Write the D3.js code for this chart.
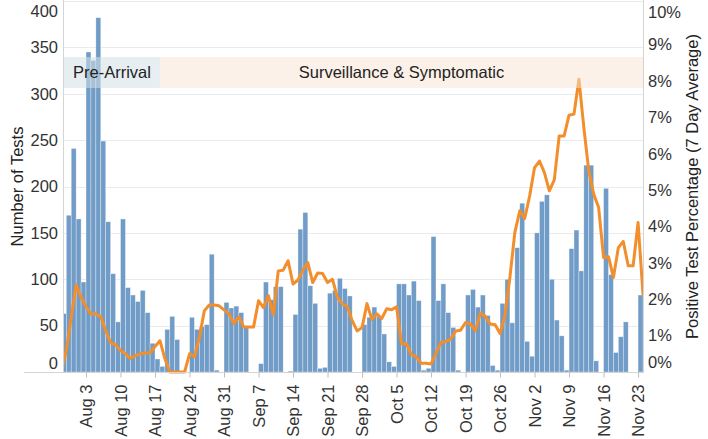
<!DOCTYPE html>
<html><head><meta charset="utf-8">
<script src="https://cdn.jsdelivr.net/npm/d3@7"></script>
<style>
html,body{margin:0;padding:0;background:#fff;}
svg{display:block;font-family:"Liberation Sans",Arial,sans-serif;}
</style></head>
<body><svg id="chart" width="708" height="439"></svg>
<script>
// ---------- DATA ----------
const firstDay = "2020-07-29";           // first bar / line date
const lastBarDay = "2020-11-23";
const lastLineDay = "2020-11-24";
// daily number of tests (Jul 29 .. Nov 23)
const tests = [
  63,169,241,
  165,97,345,336,382,249,162,106,54,165,91,83,76,88,64,31,14,6,46,60,35,0,0,59,46,49,51,127,2,0,75,
  69,71,64,48,0,0,9,97,78,92,92,0,1,62,154,172,93,74,4,5,85,88,101,90,82,0,0,51,59,70,
  60,41,11,6,95,95,83,98,77,2,4,146,77,95,64,48,2,0,83,89,70,83,61,7,2,74,100,53,134,182,33,
  17,150,184,191,100,56,39,2,133,153,109,223,223,12,0,198,105,21,38,54,0,0,83
];
// positive test percentage, 7 day average, in % (Jul 29 .. Nov 24)
const positivePct = [
  0.0,0.6,1.5,
  2.40,2.05,1.80,1.60,1.60,1.52,1.13,0.80,0.75,0.59,0.50,0.37,0.45,0.50,0.52,0.53,0.70,0.86,0.37,0,0,0,0,0.50,0.42,0.95,1.68,1.84,1.84,1.82,1.71,
  1.60,1.33,1.52,1.24,1.24,1.24,1.96,1.77,2.10,1.57,2.78,2.80,3.06,2.42,2.53,2.80,3.01,2.46,2.72,2.71,2.46,2.55,2.05,1.87,1.80,1.41,1.13,1.22,1.88,1.44,
  1.60,1.47,1.74,1.71,1.79,0.78,0.78,0.48,0.42,0.24,0.24,0.22,0.51,0.81,0.84,0.91,1.13,1.15,1.36,1.32,1.13,1.62,1.53,1.32,1.30,1.06,1.55,2.60,3.84,4.43,4.22,
  4.84,5.62,5.80,5.48,4.98,5.28,6.49,6.49,7.06,7.09,8.05,6.72,5.53,4.89,4.52,3.15,3.17,2.60,3.42,3.59,2.92,2.92,4.11,2.14
];
const weekTicks = ["2020-08-03","2020-08-10","2020-08-17","2020-08-24","2020-08-31","2020-09-07","2020-09-14","2020-09-21","2020-09-28","2020-10-05","2020-10-12","2020-10-19","2020-10-26","2020-11-02","2020-11-09","2020-11-16","2020-11-23"];
const leftTicks = [0,50,100,150,200,250,300,350,400];
const rightTicks = [0,1,2,3,4,5,6,7,8,9,10];
const phaseNames = ["Pre-Arrival","Surveillance & Symptomatic"];
const phaseStarts = ["2020-07-29T12:48","2020-08-18"];
const phaseEnds = ["2020-08-18","2020-11-24"];

// ---------- LAYOUT ----------
const L = 64, R = 643, T = 1, B = 372;
const FS = 16.5;
const parse = s => new Date(s.length > 10 ? s + ":00Z" : s + "T00:00:00Z");
const svg = d3.select("#chart");

const x = d3.scaleUtc()
  .domain([parse("2020-07-29T12:48"), parse("2020-11-24")])
  .range([L, R]);
const yL = d3.scaleLinear().domain([0, 400]).range([B, T]);
const yR = d3.scaleLinear().domain([0, 10.2]).range([B, T]);

const barDays = d3.utcDay.range(parse(firstDay), d3.utcDay.offset(parse(lastBarDay), 1));
const lineDays = d3.utcDay.range(parse(firstDay), d3.utcDay.offset(parse(lastLineDay), 1));
const barData = barDays.map((d, i) => ({d, v: tests[i]}));
const lineData = lineDays.map((d, i) => ({d, v: positivePct[i]}));

svg.append("defs").append("clipPath").attr("id", "plotclip")
  .append("rect").attr("x", L).attr("y", T - 2).attr("width", R - L).attr("height", B - T + 4);

// gridlines
svg.append("g").selectAll("line").data(leftTicks).join("line")
  .attr("x1", L).attr("x2", R)
  .attr("y1", d => Math.round(yL(d)) + 0.5).attr("y2", d => Math.round(yL(d)) + 0.5)
  .attr("stroke", "#ebebeb").attr("stroke-width", 1);

const plot = svg.append("g").attr("clip-path", "url(#plotclip)");

// bars
plot.append("g").selectAll("rect").data(barData).join("rect")
  .attr("x", d => x(d.d))
  .attr("width", d => x(d3.utcDay.offset(d.d, 1)) - x(d.d))
  .attr("y", d => yL(d.v))
  .attr("height", d => B - yL(d.v))
  .attr("fill", "#709cc7")
  .attr("stroke", "#ffffff").attr("stroke-opacity", 0.55).attr("stroke-width", 0.6);

// line
plot.append("path").datum(lineData)
  .attr("fill", "none").attr("stroke", "#f28e2b").attr("stroke-width", 3)
  .attr("stroke-linejoin", "round").attr("stroke-linecap", "round")
  .attr("d", d3.line().x(d => x(d.d)).y(d => yR(d.v)));

// annotation bands
const bandTop = 57, bandBot = 88;
const bandFill = ["rgba(211,224,230,0.55)", "rgba(247,227,209,0.5)"];
phaseNames.forEach((name, i) => {
  const x0 = Math.max(L, x(parse(phaseStarts[i]))), x1 = Math.min(R, x(parse(phaseEnds[i])));
  svg.append("rect").attr("x", x0).attr("y", bandTop).attr("width", x1 - x0).attr("height", bandBot - bandTop)
    .attr("fill", bandFill[i]);
  svg.append("text").attr("x", (x0 + x1) / 2).attr("y", (bandTop + bandBot) / 2)
    .attr("dy", "0.35em").attr("text-anchor", "middle")
    .attr("font-size", FS).attr("fill", "#222").text(name);
});

// axis lines
const axisCol = "#d4d4d4";
svg.append("line").attr("x1", L - 0.5).attr("x2", L - 0.5).attr("y1", 0).attr("y2", B + 1).attr("stroke", axisCol);
svg.append("line").attr("x1", R + 0.5).attr("x2", R + 0.5).attr("y1", 0).attr("y2", B + 1).attr("stroke", axisCol);

// bottom axis
const xAxis = d3.axisBottom(x).tickValues(weekTicks.map(parse))
  .tickFormat(d3.utcFormat("%b %-d")).tickSize(5).tickSizeOuter(0);
const gx = svg.append("g").attr("transform", `translate(0,${B + 0.5})`).call(xAxis);
gx.select(".domain").attr("stroke", axisCol).attr("d", `M${L - 40},0H${R + 1}`);
gx.selectAll(".tick line").attr("stroke", "#bdbdbd");
gx.selectAll(".tick text")
  .attr("transform", "rotate(-90)")
  .attr("text-anchor", "end")
  .attr("x", -12).attr("y", 0).attr("dy", "0.35em")
  .attr("font-size", FS).attr("fill", "#333").attr("font-family", "Liberation Sans, Arial, sans-serif");

// left axis
const yAxisL = d3.axisLeft(yL).tickValues(leftTicks).tickSize(0).tickPadding(6);
const gl = svg.append("g").attr("transform", `translate(${L},0)`).call(yAxisL);
gl.select(".domain").remove();
gl.selectAll(".tick text")
  .attr("font-size", FS).attr("fill", "#333").attr("font-family", "Liberation Sans, Arial, sans-serif")
  .attr("y", d => Math.max(11, Math.min(363, yL(d))) - yL(d));

// right axis
const yAxisR = d3.axisRight(yR).tickValues(rightTicks).tickSize(0).tickPadding(5)
  .tickFormat(d => d + "%");
const gr = svg.append("g").attr("transform", `translate(${R},0)`).call(yAxisR);
gr.select(".domain").remove();
gr.selectAll(".tick text")
  .attr("font-size", FS).attr("fill", "#333").attr("font-family", "Liberation Sans, Arial, sans-serif")
  .attr("y", d => Math.max(12, Math.min(362, yR(d))) - yR(d));

// axis titles
svg.append("text").attr("transform", `translate(17,${(T + B) / 2}) rotate(-90)`)
  .attr("text-anchor", "middle").attr("dy", "0.35em")
  .attr("font-size", FS).attr("fill", "#222").text("Number of Tests");
svg.append("text").attr("transform", `translate(692,${(T + B) / 2}) rotate(-90)`)
  .attr("text-anchor", "middle").attr("dy", "0.35em")
  .attr("font-size", FS).attr("fill", "#222").text("Positive Test Percentage (7 Day Average)");
</script></body></html>
